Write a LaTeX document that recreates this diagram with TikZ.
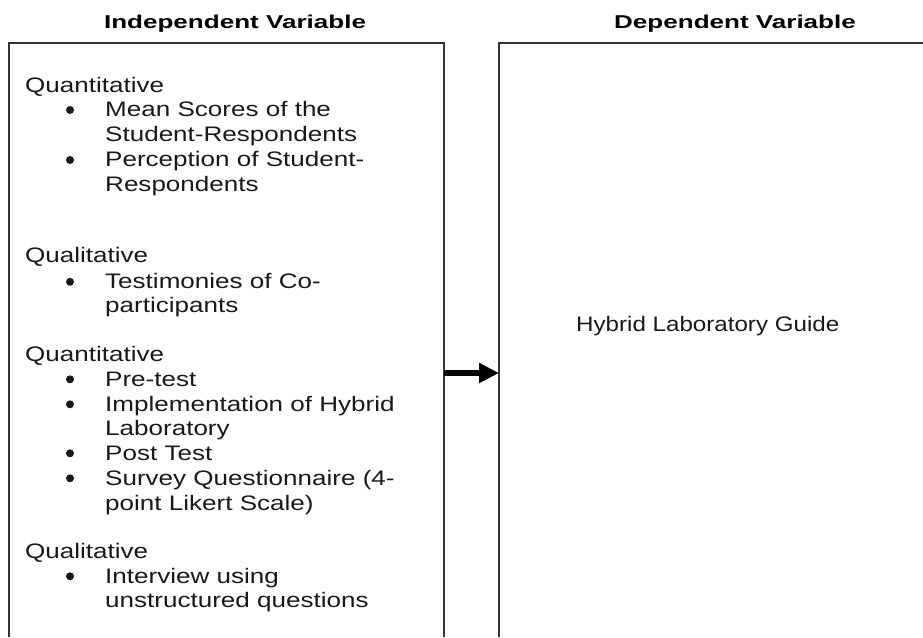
\documentclass[tikz,border=0pt]{standalone}
\usepackage{fontspec}
\usetikzlibrary{arrows.meta}
\newfontfamily\bodyfont{Liberation Sans}[FakeStretch=1.24]
\newfontfamily\guidefont{Liberation Sans}[FakeStretch=1.15]
\newfontfamily\headfont{Liberation Sans Bold}[FakeStretch=1.4]
\tikzset{
  frame/.style={draw=black!80, line width=1.5pt},
  body/.style={inner sep=0pt, anchor=base west, font=\bodyfont\fontsize{21}{25}\selectfont, text=black!90},
  guide/.style={inner sep=0pt, anchor=base west, font=\guidefont\fontsize{21}{25}\selectfont, text=black!90},
  bul/.style={circle, fill=black!90, inner sep=0pt, minimum size=8pt},
  head/.style={inner sep=0pt, anchor=base, font=\headfont\fontsize{18.6}{22}\selectfont},
  link/.style={line width=5.5pt, -{Triangle[length=20pt,width=19pt]}}
}
\begin{document}
\begin{tikzpicture}[x=1pt,y=-1pt]
\useasboundingbox (0,0) rectangle (923,637);
% boxes (open at the bottom / right)
\draw[frame] (9,637) -- (9,43) -- (444,43) -- (444,637);
\draw[frame] (499,637) -- (499,43) -- (930,43);
\coordinate (lbox) at (444,373);
\coordinate (rbox) at (499,373);
% titles
\node[head] (tind) at (235,28.3) {Independent Variable};
\node[head] (tdep) at (735,28.3) {Dependent Variable};
% left content
\node[body] (g1) at (25,92.5) {Quantitative};
\node[bul] (b1) at (70,110) {};
\node[body] (i1a) at (105,116.7) {Mean Scores of the};
\node[body] (i1b) at (105,141.7) {Student-Respondents};
\node[bul] (b2) at (70,160) {};
\node[body] (i2a) at (105,166.7) {Perception of Student-};
\node[body] (i2b) at (105,191.7) {Respondents};
\node[body] (g2) at (25,262.7) {Qualitative};
\node[bul] (b3) at (70,281.8) {};
\node[body] (i3a) at (105,288.5) {Testimonies of Co-};
\node[body] (i3b) at (105,312) {participants};
\node[body] (g3) at (25,361.7) {Quantitative};
\node[bul] (b4) at (70,379.3) {};
\node[body] (i4) at (105,386) {Pre-test};
\node[bul] (b5) at (70,404.3) {};
\node[body] (i5a) at (105,411) {Implementation of Hybrid};
\node[body] (i5b) at (105,435.5) {Laboratory};
\node[bul] (b6) at (70,453.3) {};
\node[body] (i6) at (105,460) {Post Test};
\node[bul] (b7) at (70,478.3) {};
\node[body] (i7a) at (105,485) {Survey Questionnaire (4-};
\node[body] (i7b) at (105,510) {point Likert Scale)};
\node[body] (g4) at (25,558.3) {Qualitative};
\node[bul] (b8) at (70,576.3) {};
\node[body] (i8a) at (105,583) {Interview using};
\node[body] (i8b) at (105,607.5) {unstructured questions};
% right content
\node[guide] (dv) at (576,331.7) {Hybrid Laboratory Guide};
% arrow
\draw[link] (lbox) -- (rbox);
\end{tikzpicture}
\end{document}
